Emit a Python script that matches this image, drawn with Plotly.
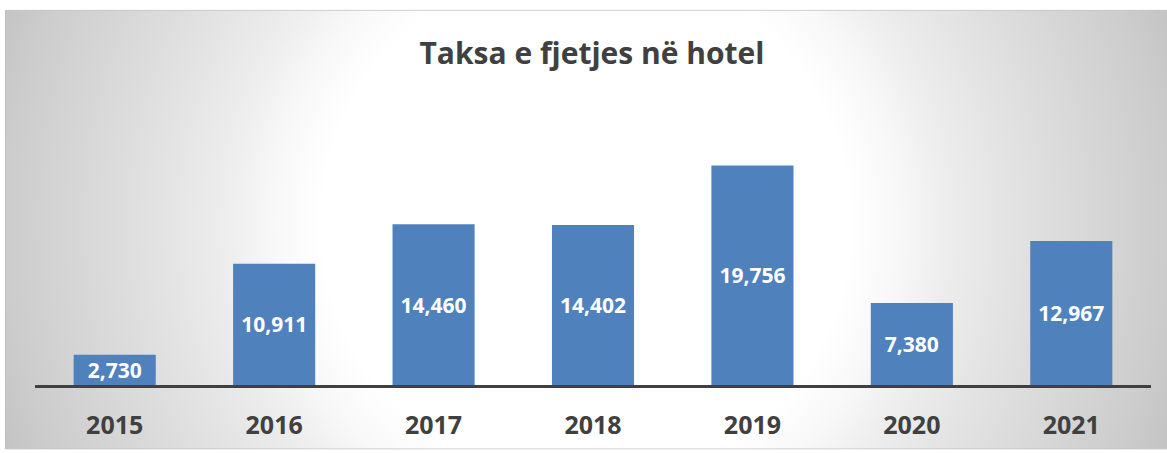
import base64
import plotly.graph_objects as go

years = ["2015", "2016", "2017", "2018", "2019", "2020", "2021"]
values = [2730, 10911, 14460, 14402, 19756, 7380, 12967]
labels = ["2,730", "10,911", "14,460", "14,402", "19,756", "7,380", "12,967"]
title_text = "Taksa e fjetjes në hotel"

W, H = 1167, 453
L, R, T, B = 35, 16, 100, 66
plot_w = W - L - R
plot_h = H - T - B

# radial gradient background (chart area)
bg_x0, bg_y0, bg_w, bg_h = 5, 9, 1162, 443
svg = f'''<svg xmlns="http://www.w3.org/2000/svg" width="{bg_w}" height="{bg_h}" viewBox="0 0 {bg_w} {bg_h}" preserveAspectRatio="none">
<defs><radialGradient id="g" gradientUnits="userSpaceOnUse" cx="{586-bg_x0}" cy="{225-bg_y0}" r="625">
<stop offset="0" stop-color="#ffffff"/>
<stop offset="0.42" stop-color="#ffffff"/>
<stop offset="0.5" stop-color="#f8f8f8"/>
<stop offset="0.57" stop-color="#eeeeee"/>
<stop offset="0.71" stop-color="#e0e0e0"/>
<stop offset="0.92" stop-color="#cdcdcd"/>
<stop offset="1" stop-color="#c3c3c3"/>
</radialGradient></defs>
<rect x="0.5" y="0.5" width="{bg_w+5}" height="{bg_h-1}" fill="url(#g)" stroke="#c0c0c0" stroke-width="1"/>
</svg>'''
src = "data:image/svg+xml;base64," + base64.b64encode(svg.encode()).decode()

fig = go.Figure(
    go.Bar(
        x=years,
        y=values,
        text=labels,
        textposition="inside",
        insidetextanchor="middle",
        constraintext="none",
        textfont=dict(family="Open Sans", size=21, color="white", weight="bold"),
        marker=dict(color="#4F81BD", line=dict(width=0)),
        hoverinfo="x+y",
    )
)

fig.update_layout(
    width=W,
    height=H,
    margin=dict(l=L, r=R, t=T, b=B),
    paper_bgcolor="white",
    plot_bgcolor="rgba(0,0,0,0)",
    bargap=0.485,
    showlegend=False,
    title=dict(
        text=title_text,
        font=dict(family="Open Sans", size=30, color="#404040", weight="bold"),
        x=592 / W,
        xref="container",
        xanchor="center",
        y=1 - 53 / H,
        yref="container",
        yanchor="middle",
    ),
    images=[
        dict(
            source=src,
            xref="paper",
            yref="paper",
            x=(bg_x0 - L) / plot_w,
            y=(H - B - bg_y0) / plot_h,
            sizex=bg_w / plot_w,
            sizey=bg_h / plot_h,
            xanchor="left",
            yanchor="top",
            sizing="stretch",
            layer="below",
        )
    ],
)

fig.update_xaxes(
    showline=True,
    linecolor="#404040",
    linewidth=3,
    showgrid=False,
    ticks="outside",
    ticklen=16,
    tickcolor="rgba(0,0,0,0)",
    tickfont=dict(family="Open Sans", size=25, color="#404040", weight="bold"),
    fixedrange=True,
)
fig.update_yaxes(
    range=[0, plot_h / (221 / 19756)],
    visible=False,
    showgrid=False,
    zeroline=False,
    fixedrange=True,
)

fig.write_html(
    "out.html",
    config={"displayModeBar": False},
    post_script="document.body.style.margin='0';document.body.style.padding='0';document.body.style.overflow='hidden';",
)
